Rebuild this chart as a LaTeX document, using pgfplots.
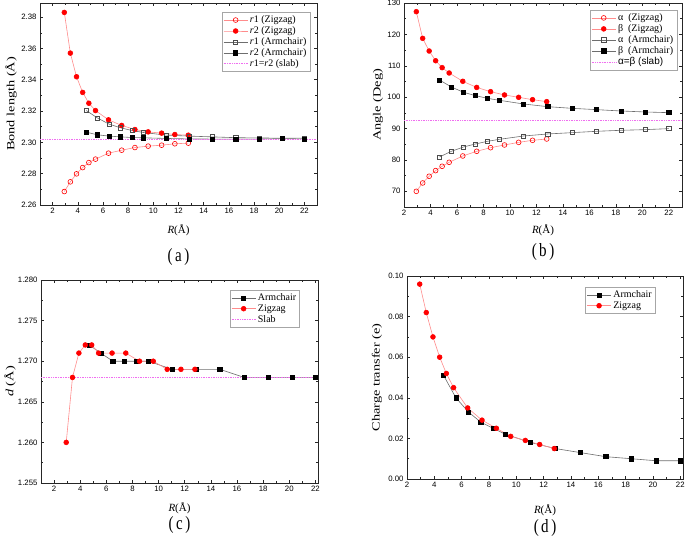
\documentclass[border=0pt]{standalone}
\usepackage{fontspec}
\setmainfont{Liberation Serif}
\setsansfont{Liberation Sans}
\usepackage{graphicx}
\usepackage{pgfplots}
\pgfplotsset{compat=1.18}
\definecolor{zline}{RGB}{255,140,140}
\definecolor{aline}{RGB}{110,110,110}
\definecolor{slabc}{RGB}{240,110,240}
\pgfplotsset{
  panel/.style={
    scale only axis, clip=false,
    tick align=inside,
    axis line style={line width=0.7pt, black!85},
    major tick length=3pt, minor tick length=1.7pt,
    every tick/.style={black!85, line width=0.5pt},
    minor x tick num=1, minor y tick num=1,
    xtick={2,4,...,22},
    tick label style={font=\sffamily\fontsize{7.8}{8}\selectfont},
    /pgf/number format/assume math mode=true,
    xlabel={\textit{R}(Å)},
    xlabel style={at={(axis description cs:0.5,0)}, anchor=center, font=\fontsize{11}{12}\selectfont},
    ylabel style={at={(axis description cs:0,0.5)}, anchor=center, font=\fontsize{11}{12}\selectfont},
    legend cell align=left,
    legend style={font=\fontsize{10}{11}\selectfont, draw=black!35, line width=0.5pt,
      row sep=-1.5pt, inner sep=1.5pt},
    legend image code/.code={\draw[mark repeat=2,mark phase=2] plot coordinates {(0cm,0cm) (0.42cm,0cm) (0.84cm,0cm)};},
  },
  zopen/.style={color=zline, line width=0.6pt, mark=o, mark size=2.4pt, mark options={draw=red, fill=white, line width=0.6pt}},
  zfill/.style={color=zline, line width=0.6pt, mark=*, mark size=2.4pt, mark options={draw=red, fill=red}},
  aopen/.style={color=aline, line width=0.6pt, mark=square, mark size=2.1pt, mark options={draw=black!70, fill=white, line width=0.6pt}},
  afill/.style={color=aline, line width=0.6pt, mark=square*, mark size=2.1pt, mark options={draw=black, fill=black}},
  slab/.style={color=slabc, densely dotted, line width=0.7pt},
}
\newcommand{\pcap}[1]{\scalebox{1}[1.25]{\fontsize{15}{15}\selectfont(\,#1\,)}}
\begin{document}
\begin{tikzpicture}
\useasboundingbox (0,0) rectangle (685pt,-538pt);
% ---------------- (a)
\begin{axis}[panel, at={(40pt,-3pt)}, anchor=north west, width=277pt, height=202pt,
  xmin=1, xmax=23, ymin=2.26, ymax=2.389,
  ytick={2.26,2.28,...,2.381},
  yticklabel style={/pgf/number format/.cd, fixed, fixed zerofill, precision=2},
  ylabel={\scalebox{1.3}[1]{Bond length (Å)}},
  xlabel style={yshift=-25pt}, ylabel style={yshift=29pt},
  legend style={at={(0.975,0.955)}, anchor=north east}]
\addplot[zopen] coordinates {(2.93,2.2686) (3.41,2.2748) (3.90,2.2799) (4.39,2.2839) (4.88,2.2871) (5.41,2.2893) (6.44,2.2931) (7.49,2.2950) (8.54,2.2967) (9.59,2.2976) (10.66,2.2982) (11.71,2.2991) (12.78,2.2995)};
\addlegendentry{\textit{r}1 (Zigzag)}
\addplot[zfill] coordinates {(2.93,2.3830) (3.41,2.3570) (3.90,2.3419) (4.39,2.3319) (4.88,2.3250) (5.41,2.3203) (6.44,2.3144) (7.49,2.3108) (8.54,2.3082) (9.59,2.3067) (10.66,2.3059) (11.71,2.3050) (12.78,2.3046)};
\addlegendentry{\textit{r}2 (Zigzag)}
\addplot[aopen] coordinates {(4.68,2.3203) (5.58,2.3155) (6.50,2.3116) (7.40,2.3093) (8.30,2.3076) (9.22,2.3063) (11.04,2.3046) (12.86,2.3040) (14.69,2.3035) (16.55,2.3030) (18.39,2.3028) (20.22,2.3027) (22.0,2.3027)};
\addlegendentry{\textit{r}1 (Armchair)}
\addplot[afill] coordinates {(4.68,2.3065) (5.58,2.3048) (6.50,2.3040) (7.40,2.3035) (8.30,2.3031) (9.22,2.3029) (11.04,2.3025) (12.86,2.3022) (14.69,2.3021) (16.55,2.3021) (18.39,2.3021) (20.22,2.3024) (22.0,2.3022)};
\addlegendentry{\textit{r}2 (Armchair)}
\addplot[slab] coordinates {(1,2.3022) (23,2.3022)};
\addlegendentry{\textit{r}1=\textit{r}2 (slab)}
\node at (axis description cs:0.5,0) [yshift=-52pt] {\pcap{a}};
\end{axis}
% ---------------- (b)
\begin{axis}[panel, at={(404pt,-3pt)}, anchor=north west, width=278pt, height=204pt,
  xmin=2, xmax=23, ymin=65, ymax=130,
  ytick={70,80,...,130}, minor y tick num=1,
  ylabel={\scalebox{1.3}[1]{Angle (Deg)}},
  xlabel style={yshift=-23pt}, ylabel style={yshift=26pt},
  legend style={at={(0.982,0.966)}, anchor=north east}]
\addplot[zopen] coordinates {(2.93,70.0) (3.41,72.66) (3.90,74.8) (4.39,76.6) (4.88,77.97) (5.41,79.24) (6.44,81.26) (7.49,82.75) (8.54,83.9) (9.59,84.76) (10.66,85.6) (11.71,86.25) (12.78,86.67)};
\addlegendentry{α~ (Zigzag)}
\addplot[zfill] coordinates {(2.93,127.24) (3.41,118.74) (3.90,114.7) (4.39,111.6) (4.88,109.4) (5.41,107.7) (6.44,105.05) (7.49,103.1) (8.54,101.75) (9.59,100.7) (10.66,99.95) (11.71,99.2) (12.78,98.57)};
\addlegendentry{β~ (Zigzag)}
\addplot[aopen] coordinates {(4.68,80.94) (5.58,82.75) (6.50,84.13) (7.40,85.08) (8.30,85.93) (9.22,86.57) (11.04,87.63) (12.86,88.27) (14.69,88.69) (16.55,89.12) (18.39,89.44) (20.22,89.65) (22.0,89.97)};
\addlegendentry{α~ (Armchair)}
\addplot[afill] coordinates {(4.68,105.47) (5.58,103.24) (6.50,101.54) (7.40,100.48) (8.30,99.63) (9.22,98.99) (11.04,97.82) (12.86,96.97) (14.69,96.44) (16.55,96.02) (18.39,95.59) (20.22,95.28) (22.0,95.06)};
\addlegendentry{β~ (Armchair)}
\addplot[slab] coordinates {(2,92.6) (23,92.6)};
\addlegendentry{\sffamily α=β (slab)}
\node at (axis description cs:0.5,0) [yshift=-45pt] {\pcap{b}};
\end{axis}
% ---------------- (c)
\begin{axis}[panel, at={(41pt,-280pt)}, anchor=north west, width=277pt, height=203pt,
  xmin=1, xmax=22.2, ymin=1.255, ymax=1.280,
  ytick={1.255,1.260,...,1.2801},
  yticklabel style={/pgf/number format/.cd, fixed, fixed zerofill, precision=3},
  ylabel={\scalebox{1.3}[1]{\textit{d} (Å)}},
  xlabel style={yshift=-25pt}, ylabel style={yshift=31pt},
  legend style={at={(0.935,0.951)}, anchor=north east}]
\addplot[afill] coordinates {(4.68,1.272) (5.58,1.271) (6.50,1.270) (7.40,1.270) (8.30,1.270) (9.22,1.270) (11.04,1.269) (12.86,1.269) (14.69,1.269) (16.55,1.268) (18.39,1.268) (20.22,1.268) (22.0,1.268)};
\addlegendentry{Armchair}
\addplot[zfill] coordinates {(2.93,1.260) (3.41,1.268) (3.90,1.271) (4.39,1.272) (4.88,1.272) (5.41,1.271) (6.44,1.271) (7.49,1.271) (8.54,1.270) (9.59,1.270) (10.66,1.269) (11.71,1.269) (12.78,1.269)};
\addlegendentry{Zigzag}
\addplot[slab] coordinates {(1,1.268) (22.2,1.268)};
\addlegendentry{Slab}
\node at (axis description cs:0.5,0) [yshift=-42pt] {\pcap{c}};
\end{axis}
% ---------------- (d)
\begin{axis}[panel, at={(407pt,-276pt)}, anchor=north west, width=276pt, height=203pt,
  xmin=2, xmax=22.2, ymin=0, ymax=0.10,
  ytick={0,0.02,...,0.101},
  yticklabel style={/pgf/number format/.cd, fixed, fixed zerofill, precision=2},
  ylabel={\scalebox{1.3}[1]{Charge transfer (e)}},
  xlabel style={yshift=-31pt}, ylabel style={yshift=30pt},
  legend style={at={(0.9,0.946)}, anchor=north east}]
\addplot[afill] coordinates {(4.68,0.051) (5.58,0.040) (6.50,0.033) (7.40,0.028) (8.30,0.025) (9.22,0.022) (11.04,0.018) (12.86,0.015) (14.69,0.013) (16.55,0.011) (18.39,0.010) (20.22,0.009) (22.0,0.009)};
\addlegendentry{Armchair}
\addplot[zfill] coordinates {(2.93,0.096) (3.41,0.082) (3.90,0.070) (4.39,0.060) (4.88,0.052) (5.41,0.045) (6.44,0.035) (7.49,0.029) (8.54,0.025) (9.59,0.021) (10.66,0.019) (11.71,0.017) (12.78,0.015)};
\addlegendentry{Zigzag}
\node at (axis description cs:0.5,0) [yshift=-49pt] {\pcap{d}};
\end{axis}
\end{tikzpicture}
\end{document}
